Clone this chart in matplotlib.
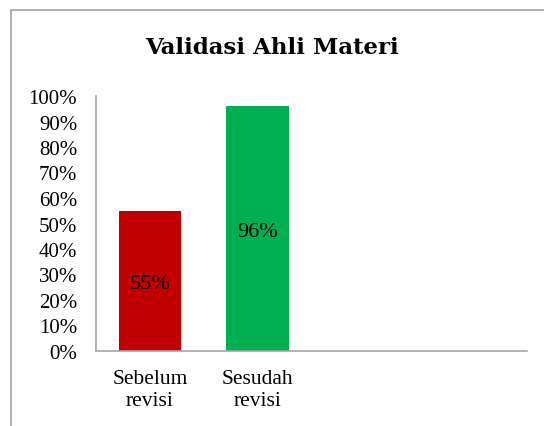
import numpy as np
import matplotlib.pyplot as plt
from matplotlib.patches import Rectangle

# data
kategori = ["Sebelum\nrevisi", "Sesudah\nrevisi", "", ""]
nilai = [0.55, 0.96, np.nan, np.nan]
warna = ["#C00000", "#00B050", "#C00000", "#C00000"]
yticks = np.arange(0, 1.01, 0.1)
ylabels = ["%d%%" % round(v * 100) for v in yticks]

W, H = 544, 427
fig = plt.figure(figsize=(W / 100, H / 100), dpi=100)

# chart frame (clipped on right/bottom)
fig.patches.append(Rectangle((11 / W, -0.1), 1.2, (H - 11) / H + 0.1,
                             transform=fig.transFigure, fill=False,
                             edgecolor="#a0a0a0", linewidth=1.2))

ax = fig.add_axes([96 / W, 75 / H, (527 - 96) / W, (352 - 97) / H])
x = np.arange(len(kategori))
ax.bar(x, nilai, width=0.58, color=warna)

for xi, v in zip(x, nilai):
    if not np.isnan(v):
        ax.text(xi, v / 2 - 0.01, "%d%%" % round(v * 100), ha="center", va="center",
                fontsize=16, family="Liberation Serif", color="black")

ax.set_xlim(-0.5, 3.5)
ax.set_ylim(0, 1)
ax.set_yticks(yticks)
ax.set_yticklabels(ylabels, family="Liberation Serif", fontsize=15)
ax.set_xticks(x)
ax.set_xticklabels(kategori, family="Liberation Serif", fontsize=15.5,
                   linespacing=1.2)
ax.tick_params(axis="both", length=0)
ax.tick_params(axis="y", pad=13.5)
ax.tick_params(axis="x", pad=13)
for s in ["top", "right"]:
    ax.spines[s].set_visible(False)
for s in ["left", "bottom"]:
    ax.spines[s].set_color("#a6a6a6")
    ax.spines[s].set_linewidth(1.2)

fig.text(272 / W, 1 - 48 / H, "Validasi Ahli Materi", ha="center", va="center",
         fontsize=16.5, fontweight="bold", family="DejaVu Serif")

fig.savefig("out.png", dpi=100)
